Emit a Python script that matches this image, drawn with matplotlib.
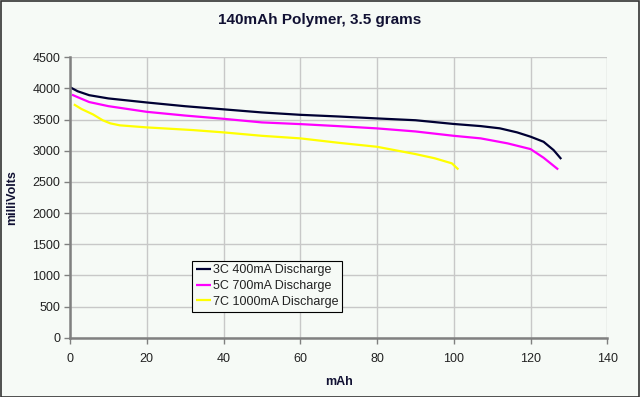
import matplotlib
matplotlib.use("Agg")
import matplotlib.pyplot as plt
from matplotlib.patches import Rectangle

plt.rcParams['font.family'] = ['Liberation Sans', 'DejaVu Sans']

title = "140mAh Polymer, 3.5 grams"
xlabel = "mAh"
ylabel = "milliVolts"
series_names = ["3C 400mA Discharge", "5C 700mA Discharge", "7C 1000mA Discharge"]

mah_3c = [0, 2, 5, 10, 20, 30, 40, 50, 60, 70, 80, 90, 100, 107, 112, 116.5, 120, 123.4, 126, 128]
mv_3c = [4020, 3955, 3892, 3840, 3775, 3715, 3665, 3615, 3577, 3550, 3519, 3490, 3430, 3396, 3360, 3295, 3226, 3144, 3011, 2867]

mah_5c = [0.5, 2, 5, 10, 20, 30, 40, 50, 60, 70, 80, 90, 100, 107, 114, 120, 123.4, 127.2]
mv_5c = [3900, 3860, 3782, 3716, 3625, 3565, 3513, 3455, 3428, 3395, 3359, 3310, 3240, 3199, 3119, 3027, 2888, 2700]

mah_7c = [1, 3, 6, 8.5, 10.5, 13, 20, 32, 40, 50, 60, 70, 80, 90, 95, 99.5, 101.2]
mv_7c = [3745, 3670, 3583, 3490, 3440, 3408, 3375, 3332, 3295, 3240, 3199, 3128, 3064, 2947, 2880, 2798, 2700]

colors = ["#000033", "#FF00FF", "#FFFF00"]
xticks = [0, 20, 40, 60, 80, 100, 120, 140]
yticks = [0, 500, 1000, 1500, 2000, 2500, 3000, 3500, 4000, 4500]

bg = "#F6FAF6"
fig = plt.figure(figsize=(6.4, 3.97), dpi=100, facecolor=bg)
ax = fig.add_axes([70/640, 1-337.7/397, 537.3/640, 280.4/397])
ax.set_facecolor(bg)

for xs, ys, c, n in zip([mah_3c, mah_5c, mah_7c], [mv_3c, mv_5c, mv_7c], colors, series_names):
    ax.plot(xs, ys, color=c, lw=1.6, label=n, solid_capstyle='butt')

ax.set_xlim(0, 140)
ax.set_ylim(0, 4500)
ax.set_xticks(xticks)
ax.set_yticks(yticks)
ax.grid(True, color="#C8C8C8", lw=1.0)
ax.set_axisbelow(True)
for s in ['top', 'right']:
    ax.spines[s].set_visible(False)
for s in ['left', 'bottom']:
    ax.spines[s].set_color("#808080")
    ax.spines[s].set_linewidth(1.8)
ax.tick_params(axis='both', direction='out', length=4, width=1, color="#808080",
               labelsize=9, labelcolor="#222222", pad=3)
ax.tick_params(axis='x', pad=7)

fig.text(0.5, 1 - 20/397, title, fontsize=11, fontweight='bold', color="#111133",
         ha='center', va='center')
ax.set_xlabel(xlabel, fontsize=9, fontweight='bold', color="#111133", labelpad=8)
ax.set_ylabel(ylabel, fontsize=9, fontweight='bold', color="#111133", labelpad=10)

leg = ax.legend(loc='lower left', bbox_to_anchor=(0.227, 0.093), fontsize=9,
                frameon=True, fancybox=False, handlelength=1.2, handletextpad=0.2,
                borderpad=0.3, labelspacing=0.3, borderaxespad=0)
leg.get_frame().set_edgecolor("#000000")
leg.get_frame().set_linewidth(0.8)
leg.get_frame().set_facecolor(bg)
leg.get_frame().set_alpha(1)
for t in leg.get_texts():
    t.set_color("#222222")

fig.patches.append(Rectangle((0.5/640, 0.5/397), 638.5/640, 395.5/397, transform=fig.transFigure,
                             fill=False, edgecolor="#333333", lw=1.2))

fig.savefig("out.png", dpi=100, facecolor=bg)
